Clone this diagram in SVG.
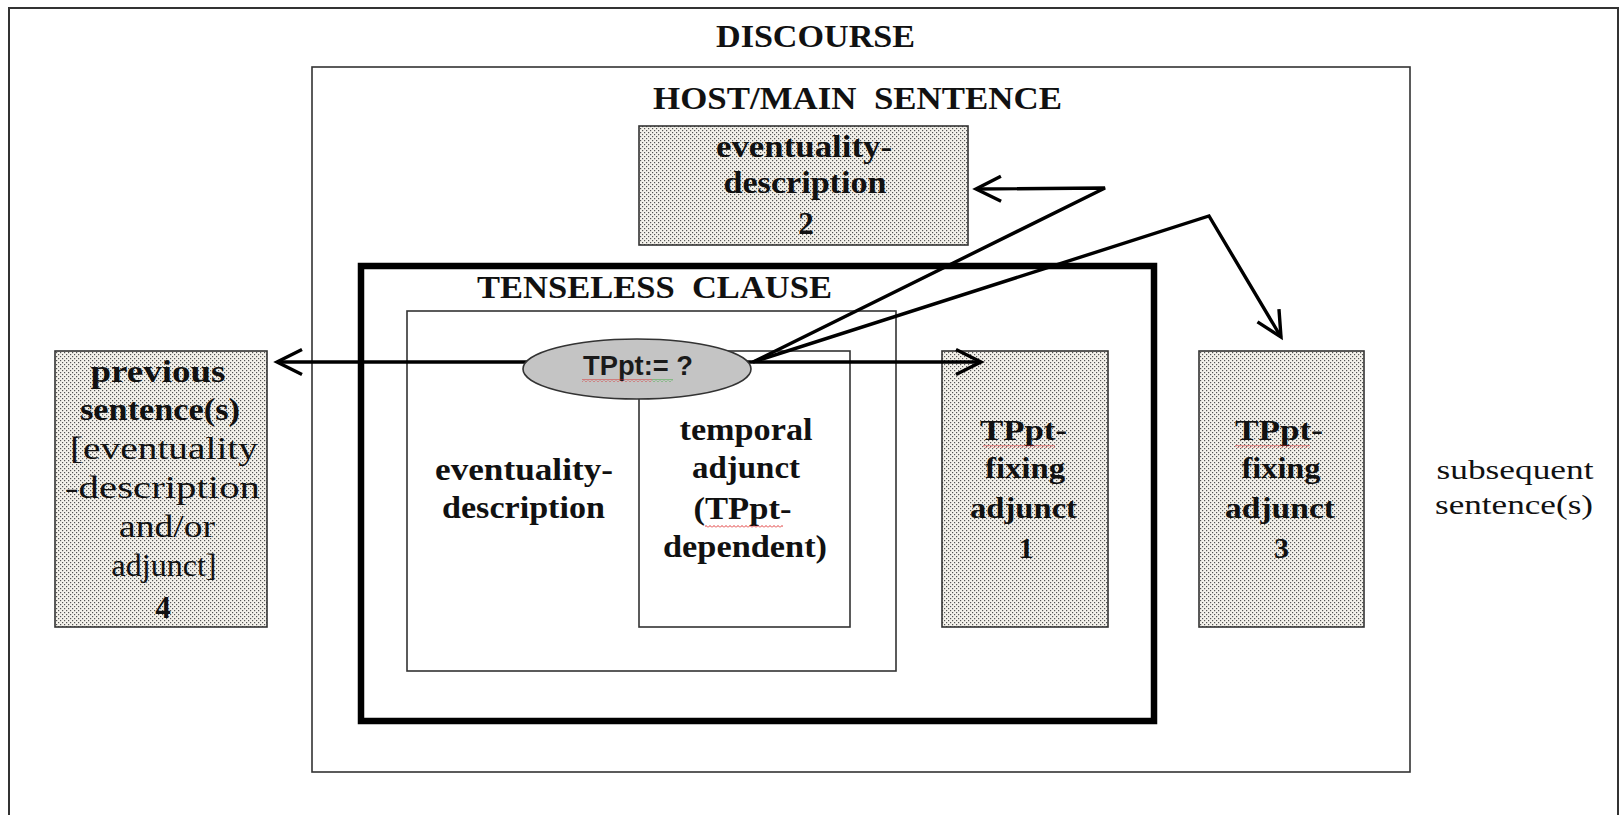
<svg xmlns="http://www.w3.org/2000/svg" width="1620" height="815" viewBox="0 0 1620 815">
<style>
.frame{fill:none;stroke:#333;stroke-width:2}
.box{fill:#fff;stroke:#333;stroke-width:1.6}
.thick{fill:none;stroke:#000;stroke-width:6.5}
.shade{fill:url(#dots);stroke:#333;stroke-width:1.6}
.t{font-family:"Liberation Serif","Times New Roman",serif;fill:#111;text-anchor:middle}
.b{font-weight:bold}
.title{font-size:31px;font-weight:bold}
.big{font-size:31px}
.mid{font-size:30px}
.sub{font-size:27px}
.conn{fill:none;stroke:#000;stroke-width:3.4;stroke-linejoin:miter}
</style>
<defs>
<pattern id="dots" width="4" height="4" patternUnits="userSpaceOnUse">
<rect width="4" height="4" fill="#f4f2eb"/>
<rect x="0" y="0" width="1.2" height="1.2" fill="#555"/>
<rect x="2" y="2" width="1.2" height="1.2" fill="#555"/>
</pattern>
<pattern id="sqR" width="4" height="3" patternUnits="userSpaceOnUse">
<path d="M0,2.5 L2,0.5 L4,2.5" stroke="#d22" fill="none" stroke-width="0.9"/>
</pattern>
<pattern id="sqG" width="4" height="3" patternUnits="userSpaceOnUse">
<path d="M0,2.5 L2,0.5 L4,2.5" stroke="#3a3" fill="none" stroke-width="0.9"/>
</pattern>
<marker id="arr" markerUnits="userSpaceOnUse" markerWidth="40" markerHeight="40" viewBox="-30 -20 40 40" refX="0" refY="0" orient="auto-start-reverse" overflow="visible">
<path d="M-25,-12.5 L0,0 L-25,12.5" fill="none" stroke="#000" stroke-width="3.4"/>
</marker>
</defs>

<g id="discourse">
<rect class="frame" x="9" y="8" width="1609" height="830"/>
<text class="t title" x="815.5" y="47" textLength="199" lengthAdjust="spacingAndGlyphs">DISCOURSE</text>
</g>

<g id="host-sentence">
<rect class="box" x="312" y="67" width="1098" height="705"/>
<text class="t title" x="857.5" y="109" textLength="409" lengthAdjust="spacingAndGlyphs" xml:space="preserve">HOST/MAIN  SENTENCE</text>
</g>

<g id="eventuality-2">
<rect class="shade" x="639" y="126" width="329" height="119"/>
<text class="t b big" x="804" y="157" textLength="176" lengthAdjust="spacingAndGlyphs">eventuality-</text>
<text class="t b big" x="805" y="193" textLength="163" lengthAdjust="spacingAndGlyphs">description</text>
<text class="t b big" x="806" y="234">2</text>
</g>

<g id="tenseless-clause">
<rect class="thick" x="361" y="266" width="793" height="455"/>
<text class="t title" x="654.5" y="298" textLength="355" lengthAdjust="spacingAndGlyphs" xml:space="preserve">TENSELESS  CLAUSE</text>
</g>

<g id="eventuality-description">
<rect class="box" x="407" y="311" width="489" height="360"/>
<text class="t b big" x="524" y="480" textLength="178" lengthAdjust="spacingAndGlyphs">eventuality-</text>
<text class="t b big" x="523.5" y="518" textLength="163" lengthAdjust="spacingAndGlyphs">description</text>
</g>

<g id="temporal-adjunct">
<rect class="box" x="639" y="351" width="211" height="276"/>
<text class="t b big" x="746" y="440" textLength="133" lengthAdjust="spacingAndGlyphs">temporal</text>
<text class="t b big" x="746" y="478" textLength="108" lengthAdjust="spacingAndGlyphs">adjunct</text>
<text class="t b big" x="742.5" y="519" textLength="98" lengthAdjust="spacingAndGlyphs">(TPpt-</text>
<rect x="705" y="525" width="78" height="3" fill="url(#sqR)"/>
<text class="t b big" x="745" y="557" textLength="164" lengthAdjust="spacingAndGlyphs">dependent)</text>
</g>

<g id="previous-sentences">
<rect class="shade" x="55" y="351" width="212" height="276"/>
<text class="t b big" x="158" y="382" textLength="135" lengthAdjust="spacingAndGlyphs">previous</text>
<text class="t b big" x="160" y="420" textLength="160" lengthAdjust="spacingAndGlyphs">sentence(s)</text>
<text class="t big" x="164" y="459" textLength="188" lengthAdjust="spacingAndGlyphs">[eventuality</text>
<text class="t big" x="162.5" y="498" textLength="195" lengthAdjust="spacingAndGlyphs">-description</text>
<text class="t big" x="167" y="537" textLength="96" lengthAdjust="spacingAndGlyphs">and/or</text>
<text class="t big" x="164" y="576" textLength="105" lengthAdjust="spacingAndGlyphs">adjunct]</text>
<text class="t b big" x="163" y="618">4</text>
</g>

<g id="tppt-fixing-1">
<rect class="shade" x="942" y="351" width="166" height="276"/>
<text class="t b mid" x="1023.5" y="440" textLength="87" lengthAdjust="spacingAndGlyphs">TPpt-</text>
<rect x="983" y="445" width="72" height="3" fill="url(#sqR)"/>
<text class="t b mid" x="1025" y="478" textLength="80" lengthAdjust="spacingAndGlyphs">fixing</text>
<text class="t b mid" x="1023.5" y="518" textLength="107" lengthAdjust="spacingAndGlyphs">adjunct</text>
<text class="t b mid" x="1026" y="558">1</text>
</g>

<g id="tppt-fixing-3">
<rect class="shade" x="1199" y="351" width="165" height="276"/>
<text class="t b mid" x="1279" y="440" textLength="88" lengthAdjust="spacingAndGlyphs">TPpt-</text>
<rect x="1235" y="445" width="75" height="3" fill="url(#sqR)"/>
<text class="t b mid" x="1281" y="478" textLength="79" lengthAdjust="spacingAndGlyphs">fixing</text>
<text class="t b mid" x="1280" y="518" textLength="110" lengthAdjust="spacingAndGlyphs">adjunct</text>
<text class="t b mid" x="1281.5" y="558">3</text>
</g>

<g id="subsequent-sentences">
<text class="t sub" x="1515" y="479" textLength="157" lengthAdjust="spacingAndGlyphs">subsequent</text>
<text class="t sub" x="1514" y="514" textLength="158" lengthAdjust="spacingAndGlyphs">sentence(s)</text>
</g>

<g id="connectors">
<line class="conn" x1="277" y1="362" x2="981" y2="362" marker-start="url(#arr)" marker-end="url(#arr)"/>
<polyline class="conn" points="753,362 1105,188 976,189" marker-end="url(#arr)"/>
<polyline class="conn" points="753,362 1209,216 1281,337" marker-end="url(#arr)"/>
</g>

<g id="tppt">
<ellipse cx="637" cy="369" rx="114" ry="30" fill="#c4c4c4" stroke="#333" stroke-width="1.6"/>
<text x="638" y="375" font-family="'Liberation Sans',Arial,sans-serif" font-weight="bold" font-size="27" fill="#1a1a1a" text-anchor="middle" textLength="110" lengthAdjust="spacingAndGlyphs">TPpt:= ?</text>
<rect x="582" y="379" width="70" height="3" fill="url(#sqR)"/>
<rect x="652" y="379" width="21" height="3" fill="url(#sqG)"/>
</g>
</svg>
